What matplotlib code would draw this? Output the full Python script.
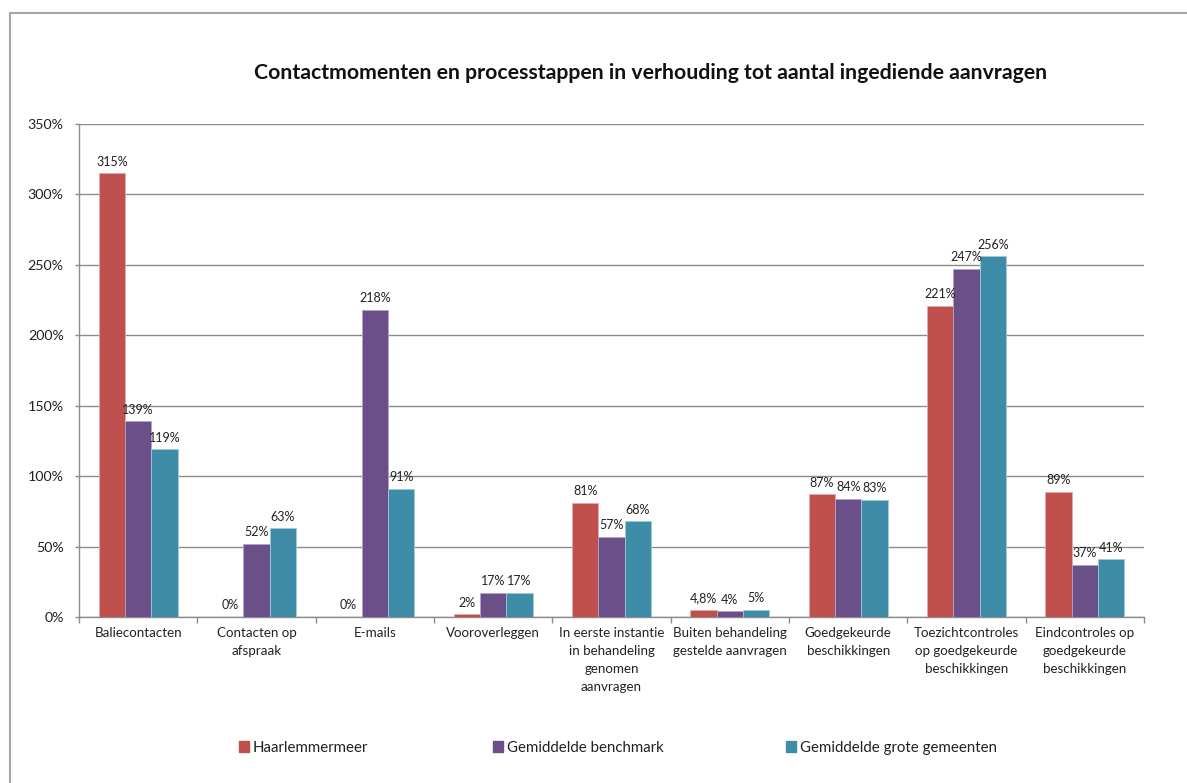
import matplotlib
matplotlib.use("Agg")
import matplotlib.pyplot as plt
import numpy as np
from matplotlib.patches import Rectangle

plt.rcParams['font.family'] = ['Lato', 'DejaVu Sans']

categories = [
    "Baliecontacten",
    "Contacten op\nafspraak",
    "E-mails",
    "Vooroverleggen",
    "In eerste instantie\nin behandeling\ngenomen\naanvragen",
    "Buiten behandeling\ngestelde aanvragen",
    "Goedgekeurde\nbeschikkingen",
    "Toezichtcontroles\nop goedgekeurde\nbeschikkingen",
    "Eindcontroles op\ngoedgekeurde\nbeschikkingen",
]
series_names = ["Haarlemmermeer", "Gemiddelde benchmark", "Gemiddelde grote gemeenten"]
haarlemmermeer = [315, 0, 0, 2, 81, 4.8, 87, 221, 89]
benchmark = [139, 52, 218, 17, 57, 4, 84, 247, 37]
grote_gemeenten = [119, 63, 91, 17, 68, 5, 83, 256, 41]
value_labels = [
    ["315%", "0%", "0%", "2%", "81%", "4,8%", "87%", "221%", "89%"],
    ["139%", "52%", "218%", "17%", "57%", "4%", "84%", "247%", "37%"],
    ["119%", "63%", "91%", "17%", "68%", "5%", "83%", "256%", "41%"],
]
y_ticks = [0, 50, 100, 150, 200, 250, 300, 350]
title = "Contactmomenten en processtappen in verhouding tot aantal ingediende aanvragen"

colors = ["#C0504D", "#6B4F88", "#3E8CA7"]
edge_colors = ["#E4AAA8", "#B3A3C8", "#9FCBDA"]

W, H = 1187, 783
fig = plt.figure(figsize=(W / 100, H / 100), dpi=100)
ax = fig.add_axes([79 / W, 1 - 617 / H, (1144 - 79) / W, (617 - 124) / H])

n = len(categories)
x = np.arange(n)
bw = 1 / 4.5
all_series = [haarlemmermeer, benchmark, grote_gemeenten]
for i, vals in enumerate(all_series):
    pos = x + (i - 1) * bw
    ax.bar(pos, vals, width=bw, color=colors[i], edgecolor=edge_colors[i],
           linewidth=0.6, zorder=3, label=series_names[i])
    for p, v, lab in zip(pos, vals, value_labels[i]):
        ax.text(p, v + 4, lab, ha="center", va="bottom", fontsize=9.0,
                color="#222222", zorder=4)

ax.set_xlim(-0.5, n - 0.5)
ax.set_ylim(0, 350)
ax.set_yticks(y_ticks)
ax.set_yticklabels([f"{t}%" for t in y_ticks], fontsize=10.3, color="#222222")
ax.yaxis.grid(True, color="#8C8C8C", linewidth=1.0, zorder=0)
ax.set_axisbelow(True)

# boundary ticks between categories, labels centred under each group
ax.set_xticks(np.arange(n + 1) - 0.5)
ax.set_xticklabels([""] * (n + 1))
ax.set_xticks(x, minor=True)
ax.set_xticklabels(categories, minor=True, fontsize=9.6, color="#222222",
                   linespacing=1.6, va="top")
ax.tick_params(axis="x", which="minor", length=0, pad=7)
ax.tick_params(axis="x", which="major", length=4, color="#8C8C8C", width=1)
ax.tick_params(axis="y", length=3, color="#8C8C8C", width=1, pad=8)

for side in ["top", "right"]:
    ax.spines[side].set_visible(False)
for side in ["left", "bottom"]:
    ax.spines[side].set_color("#8C8C8C")
    ax.spines[side].set_linewidth(1.0)

fig.text(651 / W, 1 - 73 / H, title, ha="center", va="center",
         fontsize=15.3, fontweight="bold", color="#111111")

# legend entries
leg_x = [239, 493, 786]
leg_y = 748
for lx, name, c in zip(leg_x, series_names, colors):
    fig.patches.append(Rectangle((lx / W, 1 - (leg_y + 4) / H), 10 / W, 11 / H,
                                 transform=fig.transFigure, color=c, figure=fig))
    fig.text((lx + 14) / W, 1 - leg_y / H, name, ha="left", va="center",
             fontsize=10.8, color="#222222")

# outer chart frame
fig.patches.append(Rectangle((10 / W, -0.05), 1.1, 1 - 13 / H + 0.05,
                             transform=fig.transFigure, fill=False,
                             edgecolor="#A6A6A6", linewidth=1.5, figure=fig))

fig.savefig("out.png", dpi=100)
